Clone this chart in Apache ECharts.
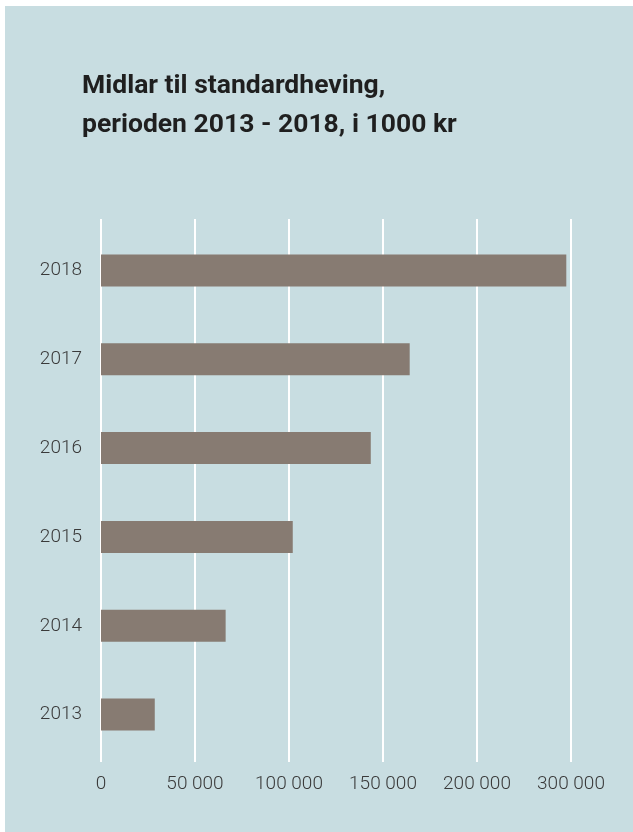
<!DOCTYPE html>
<html>
<head>
<meta charset="utf-8">
<script src="https://cdn.jsdelivr.net/npm/echarts@6/dist/echarts.min.js"></script>
<style>
  html, body { margin: 0; padding: 0; background: #fff; }
  #chart { position: absolute; left: 5px; top: 6px; width: 628px; height: 826px; }
</style>
</head>
<body>
<div id="chart"></div>
<script>
var years = ['2013', '2014', '2015', '2016', '2017', '2018'];
var amounts = [28600, 66300, 102000, 143500, 164200, 247500];
// the source labels its last tick "300 000" although it sits at 250 000
var tickLabels = ['0', '50 000', '100 000', '150 000', '200 000', '300 000'];

var dom = document.getElementById('chart');
var myChart = echarts.init(dom);

var labelFont = { fontFamily: 'Roboto', fontWeight: 300, fontSize: 19, color: '#3a3a3a' };

var option = {
    backgroundColor: '#c8dde1',
    animation: false,
    title: {
        text: 'Midlar til standardheving,\nperioden 2013 - 2018, i 1000 kr',
        left: 77,
        top: 61,
        padding: 0,
        textStyle: {
            fontFamily: 'Roboto',
            fontWeight: 'bold',
            fontSize: 26.5,
            lineHeight: 39,
            color: '#1f1f1f'
        }
    },
    grid: [
        { left: 96, right: 62, top: 220, height: 533 },
        { left: 96, right: 62, top: 213, height: 543 }
    ],
    xAxis: [
        {
            gridIndex: 0, type: 'value', min: 0, max: 250000, interval: 50000,
            axisLine: { show: false }, axisTick: { show: false },
            axisLabel: { show: false }, splitLine: { show: false }
        },
        {
            gridIndex: 1, type: 'value', min: 0, max: 250000, interval: 50000,
            axisLine: { show: false }, axisTick: { show: false },
            splitLine: { show: true, lineStyle: { color: '#fff', width: 2 } },
            axisLabel: Object.assign({
                margin: 13,
                formatter: function (v) { return tickLabels[Math.round(v / 50000)]; }
            }, labelFont)
        }
    ],
    yAxis: [
        {
            gridIndex: 0, type: 'category', data: years,
            axisLine: { show: false }, axisTick: { show: false },
            axisLabel: Object.assign({ margin: 19 }, labelFont)
        },
        {
            gridIndex: 1, type: 'value', show: false
        }
    ],
    series: [
        {
            type: 'bar',
            xAxisIndex: 0,
            yAxisIndex: 0,
            data: amounts,
            barWidth: 32,
            itemStyle: { color: '#877b72' }
        }
    ]
};
myChart.setOption(option);
</script>
</body>
</html>
